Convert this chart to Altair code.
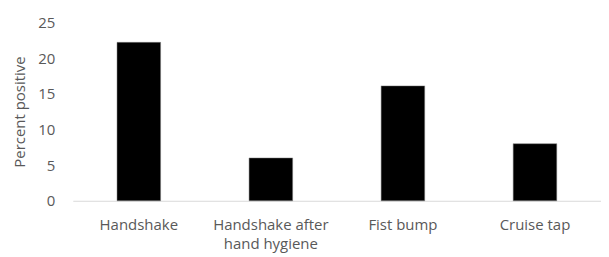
import altair as alt
import pandas as pd

categories = ["Handshake", "Handshake after hand hygiene", "Fist bump", "Cruise tap"]
values = [22.2, 6.0, 16.1, 8.0]

df = pd.DataFrame({"cat": categories, "val": values})

font = "Open Sans"
gray = "#595959"
fs = 15

chart = alt.Chart(df).mark_bar(color="black", stroke="#808080", strokeWidth=0.5).encode(
    x=alt.X("cat:N", sort=categories, title=None,
            scale=alt.Scale(paddingInner=0.67, paddingOuter=0.335),
            axis=alt.Axis(labelAngle=0, ticks=False, domainColor="#d9d9d9",
                          labelPadding=17, labelFont=font, labelFontSize=fs,
                          labelColor=gray, labelLimit=200, labelLineHeight=19,
                          labelExpr="datum.label == 'Handshake after hand hygiene' ? ['Handshake after', 'hand hygiene'] : datum.label")),
    y=alt.Y("val:Q", title="Percent positive",
            scale=alt.Scale(domain=[0, 25], nice=False),
            axis=alt.Axis(values=[0, 5, 10, 15, 20, 25], grid=False, domain=False, ticks=False,
                          labelPadding=18, labelFont=font, labelFontSize=fs, labelColor=gray,
                          titleFont=font, titleFontSize=fs, titleColor=gray,
                          titleFontWeight="normal", titlePadding=10)),
).properties(
    width=530, height=179,
    autosize=alt.AutoSizeParams(type="none"),
    padding={"left": 65, "top": 14, "right": 0, "bottom": 56},
).configure_view(stroke=None)

chart.save("out.html", embed_options={"renderer": "svg", "actions": False})
